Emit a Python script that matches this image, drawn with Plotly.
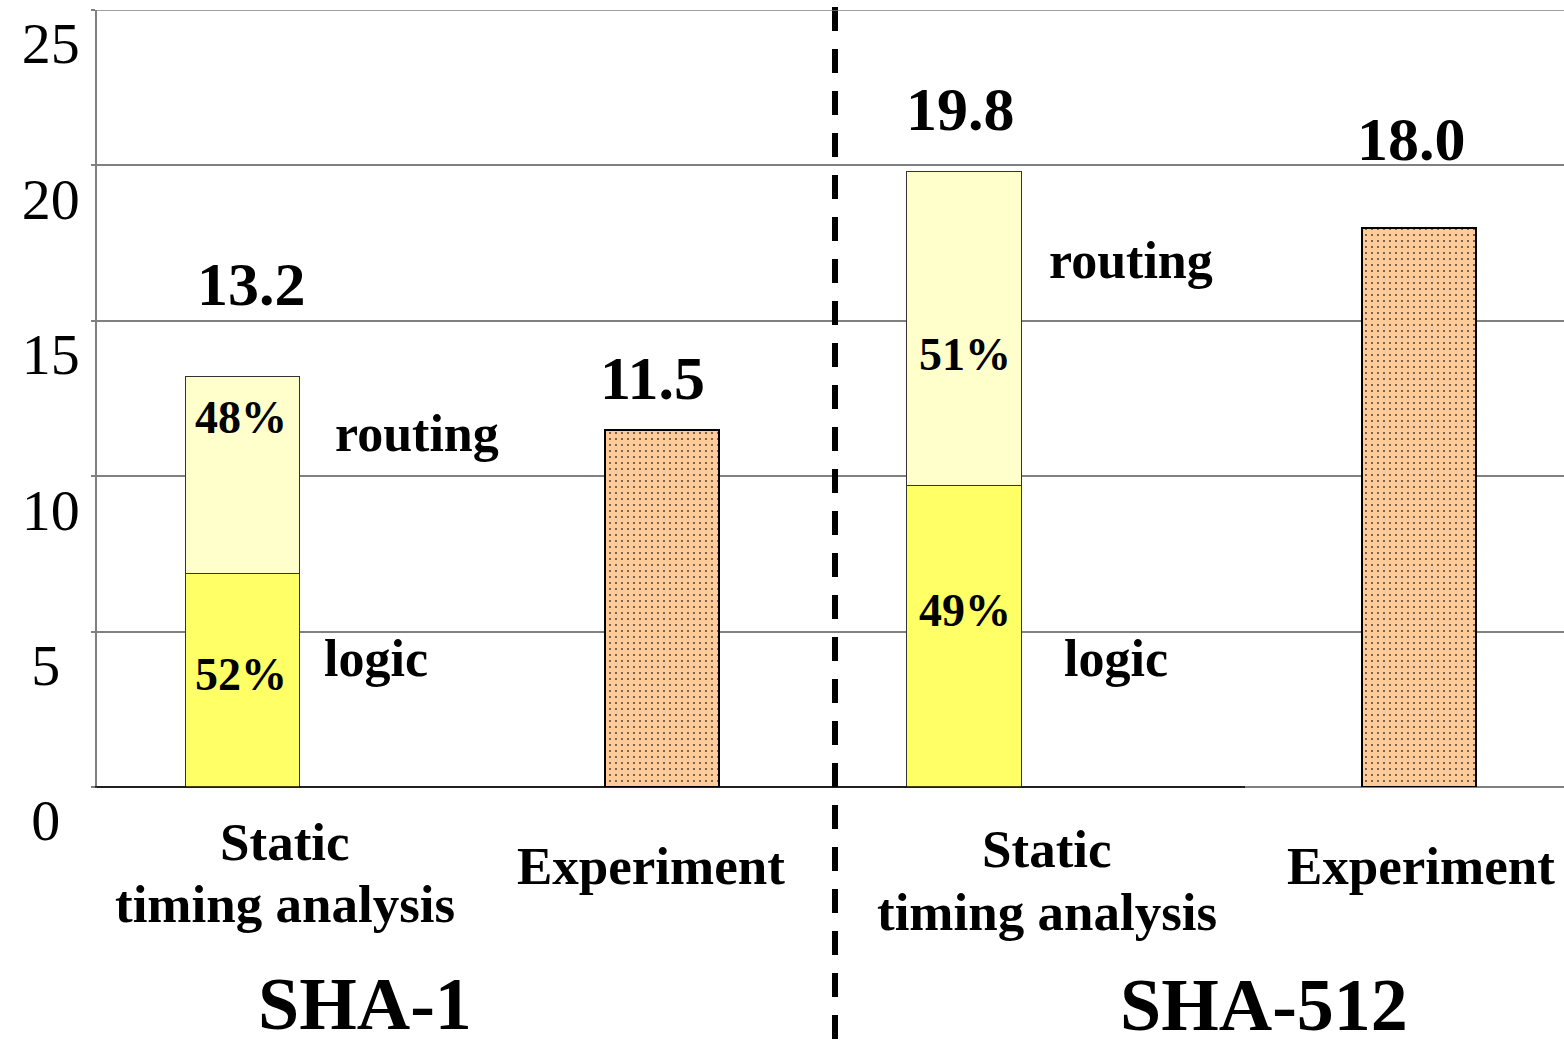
import plotly.graph_objects as go

# ---- data -------------------------------------------------------------
groups = ["SHA-1", "SHA-512"]
bar_kinds = ["Static<br>timing analysis", "Experiment"]
sta_total = [13.2, 19.8]          # static timing analysis, total delay
logic_pct = [52, 49]              # share of logic delay (%)
routing_pct = [48, 51]            # share of routing delay (%)
experiment = [11.5, 18.0]         # measured delay
y_ticks = [0, 5, 10, 15, 20, 25]

logic = [t * p / 100 for t, p in zip(sta_total, logic_pct)]
routing = [t * p / 100 for t, p in zip(sta_total, routing_pct)]

# ---- layout constants -------------------------------------------------
W, H = 1564, 1047
L, R, T, B = 97, 0, 10, 260
PW, PH = W - L - R, H - T - B
FONT = "Liberation Serif"

# bar slots on a 0..10 x axis
sta_x = [0.99, 5.91]
exp_x = [3.85, 9.01]
bar_w = 0.78


def px(xp):
    return (xp - L) / PW


def py(yp):
    return (H - B - yp) / PH


def tick_text(v):
    # single digits sit centred under the two-digit labels
    s = str(v)
    return s if len(s) > 1 else s + "\u00a0\u200a"


fig = go.Figure()

fig.add_trace(go.Bar(
    x=sta_x, y=logic, width=bar_w, name="logic",
    marker=dict(color="#FFFF66", line=dict(color="#333333", width=1)),
))
fig.add_trace(go.Bar(
    x=sta_x, y=routing, width=bar_w, name="routing",
    marker=dict(color="#FFFFCC", line=dict(color="#333333", width=1)),
))
fig.add_trace(go.Bar(
    x=exp_x, y=experiment, width=bar_w, name="experiment",
    marker=dict(
        color="#FFCC99",
        line=dict(color="#000000", width=2),
        pattern=dict(shape=".", bgcolor="#FFCC99", fgcolor="#333333",
                     size=6, solidity=0.07, fillmode="replace"),
    ),
))

ann = []


def label(text, x, y, size, bold=True):
    ann.append(dict(
        text=f"<b>{text}</b>" if bold else text,
        x=px(x), y=py(y), xref="paper", yref="paper",
        xanchor="center", yanchor="middle", showarrow=False,
        font=dict(family=FONT, size=size, color="#000000"),
    ))


# totals above bars
label(f"{sta_total[0]:.1f}", 251, 284, 62)
label(f"{experiment[0]:.1f}", 652, 378, 62)
label(f"{sta_total[1]:.1f}", 960, 109, 62)
label(f"{experiment[1]:.1f}", 1411, 139, 62)

# shares inside the static-analysis bars
label(f"{routing_pct[0]}%", 241, 417, 46)
label(f"{logic_pct[0]}%", 241, 674, 46)
label(f"{routing_pct[1]}%", 965, 354, 46)
label(f"{logic_pct[1]}%", 965, 610, 46)

# component names
label("routing", 417, 434, 52)
label("logic", 376, 658, 52)
label("routing", 1131, 260, 52)
label("logic", 1116, 658, 52)

# bar captions
label("Static", 285, 842, 53)
label("timing analysis", 285, 904, 53)
label("Experiment", 651, 866, 53)
label("Static", 1047, 849, 53)
label("timing analysis", 1047, 912, 53)
label("Experiment", 1421, 866, 53)

# group names
label(groups[0], 365, 1004, 74)
label(groups[1], 1264, 1005, 74)

shapes = [
    # dashed divider between the two algorithms
    dict(type="line", xref="paper", yref="paper",
         x0=px(835), x1=px(835), y0=py(7), y1=py(1060),
         line=dict(color="#000000", width=6, dash="24px,18px")),
    # dark baseline under the left part of the chart
    dict(type="line", xref="paper", yref="paper",
         x0=px(95), x1=px(1245), y0=0, y1=0,
         line=dict(color="#000000", width=1.5)),
    # top grid line at the upper edge of the value range
    dict(type="line", xref="paper", yref="y",
         x0=px(93), x1=1, y0=y_ticks[-1], y1=y_ticks[-1],
         line=dict(color="#808080", width=1.5)),
]

fig.update_layout(
    width=W, height=H,
    margin=dict(l=L, r=R, t=T, b=B, pad=0),
    paper_bgcolor="#FFFFFF", plot_bgcolor="#FFFFFF",
    barmode="stack", showlegend=False,
    annotations=ann, shapes=shapes,
    font=dict(family=FONT, color="#000000"),
    xaxis=dict(range=[0, 10], showticklabels=False, showgrid=False,
               zeroline=False, showline=False, ticks=""),
    yaxis=dict(
        range=[0, 25], tickvals=y_ticks, ticktext=[tick_text(v) for v in y_ticks],
        showgrid=True, gridcolor="#808080", gridwidth=1.5,
        zeroline=True, zerolinecolor="#808080", zerolinewidth=1.5,
        showline=True, linecolor="#808080", linewidth=1.5,
        ticks="outside", ticklen=4, tickcolor="#808080", tickwidth=1.5,
        tickfont=dict(family=FONT, size=58, color="#000000"),
        ticklabelshift=33, ticklabelstandoff=0,
    ),
)

fig.write_html("out.html")
